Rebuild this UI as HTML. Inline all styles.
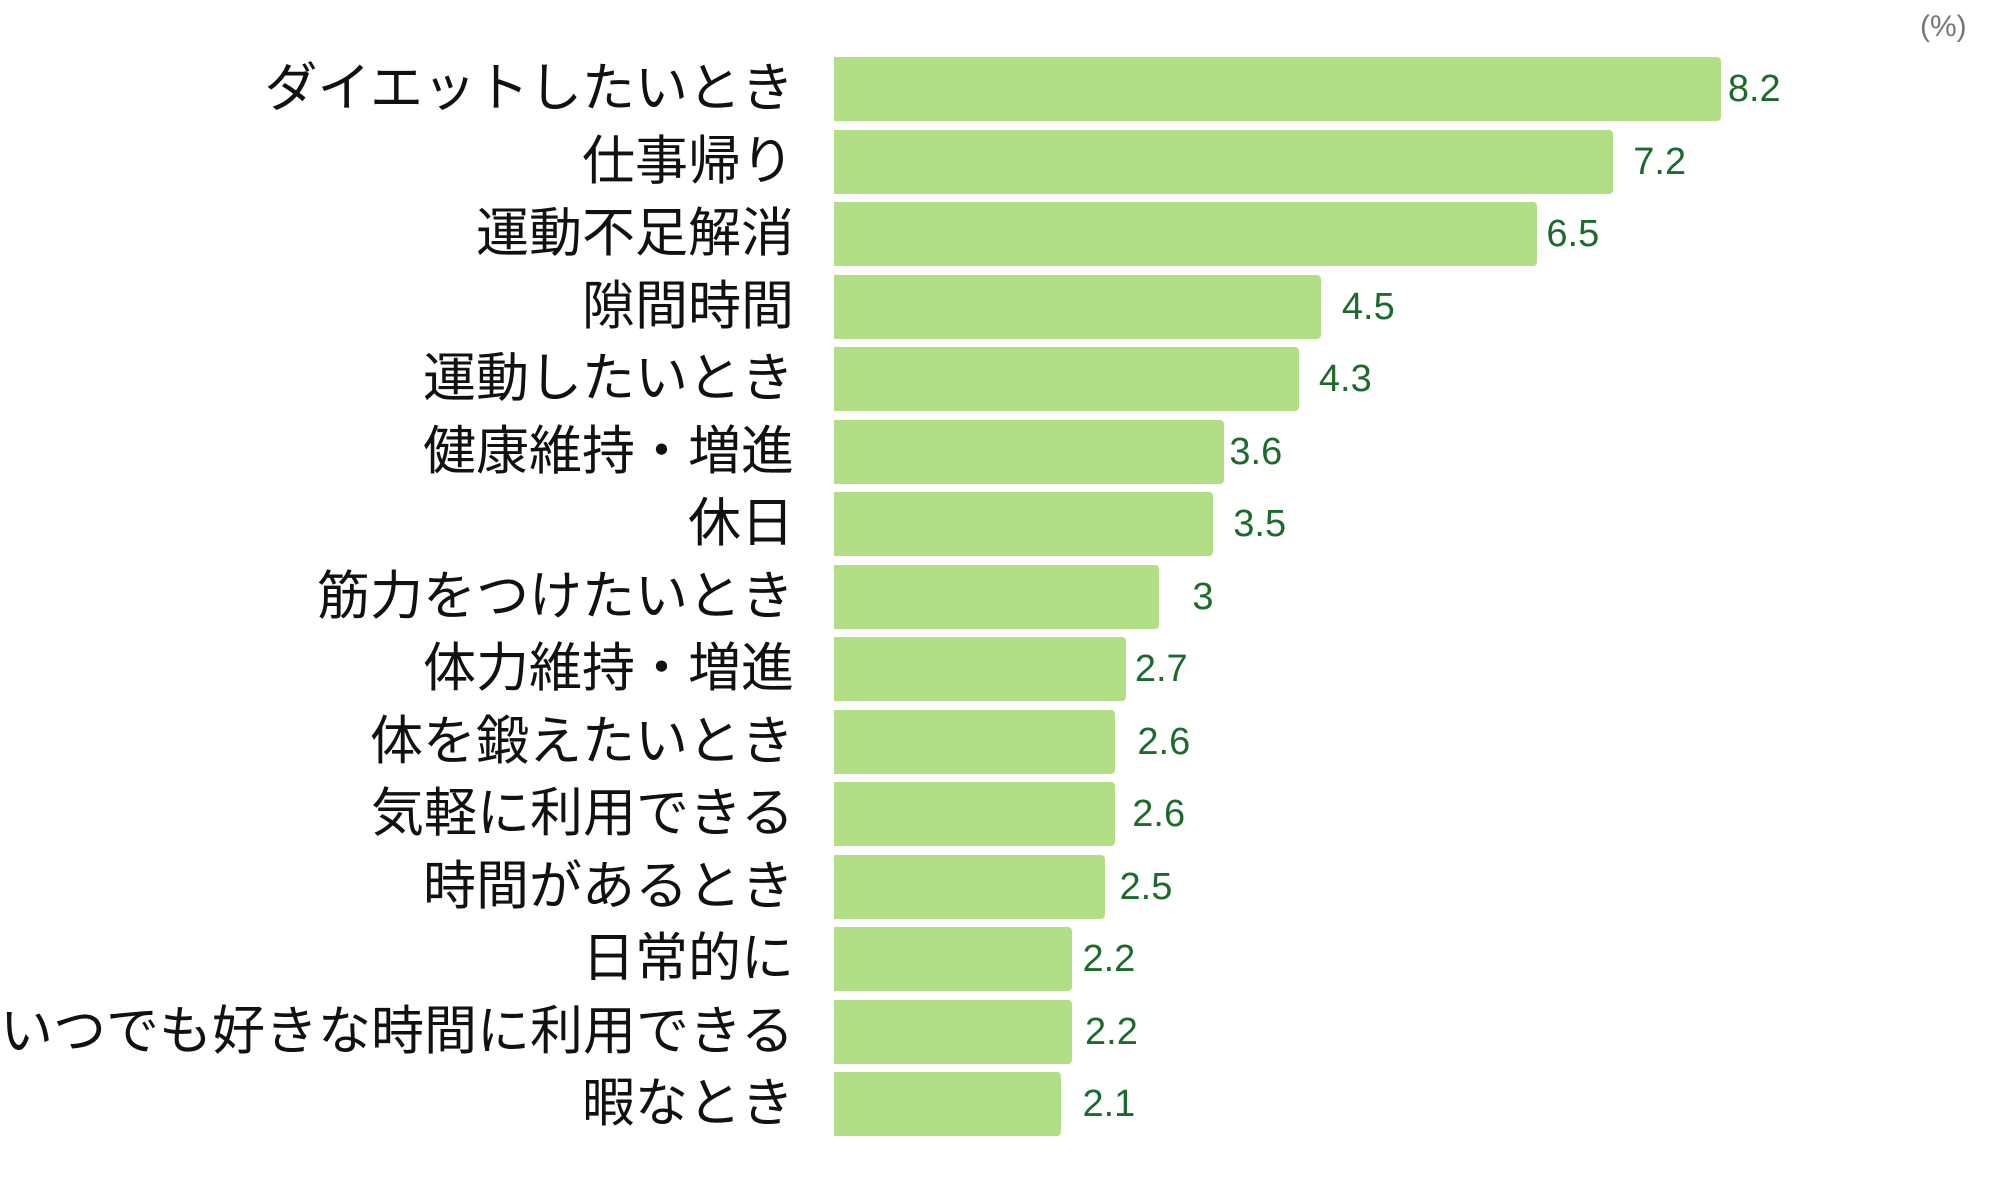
<!DOCTYPE html>
<html><head><meta charset="utf-8"><style>
body{margin:0;width:2000px;height:1200px;background:#fff;position:relative;overflow:hidden;font-family:"Liberation Sans","Noto Sans CJK JP",sans-serif}
.b{position:absolute;left:834px;height:64px;background:#b2de86;border-radius:0 4px 4px 0}
.l{position:absolute;right:1206px;font-size:53px;color:#111;line-height:64px;white-space:nowrap;letter-spacing:0px}
.v{position:absolute;font-size:38px;color:#1c6b2c;line-height:64px}
</style></head><body>
<div style="position:absolute;left:1920px;top:10px;font-size:30px;color:#777">(%)</div>
<div id="c"></div>
<script>
const d=[["ダイエットしたいとき",8.2,1352],["仕事帰り",7.2,1278],["運動不足解消",6.5,1210],["隙間時間",4.5,1050],["運動したいとき",4.3,1032],["健康維持・増進",3.6,962],["休日",3.5,965],["筋力をつけたいとき",3,933],["体力維持・増進",2.7,888],["体を鍛えたいとき",2.6,890],["気軽に利用できる",2.6,886],["時間があるとき",2.5,876],["日常的に",2.2,847],["いつでも好きな時間に利用できる",2.2,849],["暇なとき",2.1,847]];
let h="";d.forEach((r,i)=>{const t=57+i*72.5;const w=r[1]*108.2;
h+=`<div class="b" style="top:${t}px;width:${w}px"></div><div class="l" style="top:${t}px">${r[0]}</div><div class="v" style="top:${t}px;left:${r[2]*1.278}px">${r[1]}</div>`});
document.getElementById("c").innerHTML=h;
</script>
</body></html>
